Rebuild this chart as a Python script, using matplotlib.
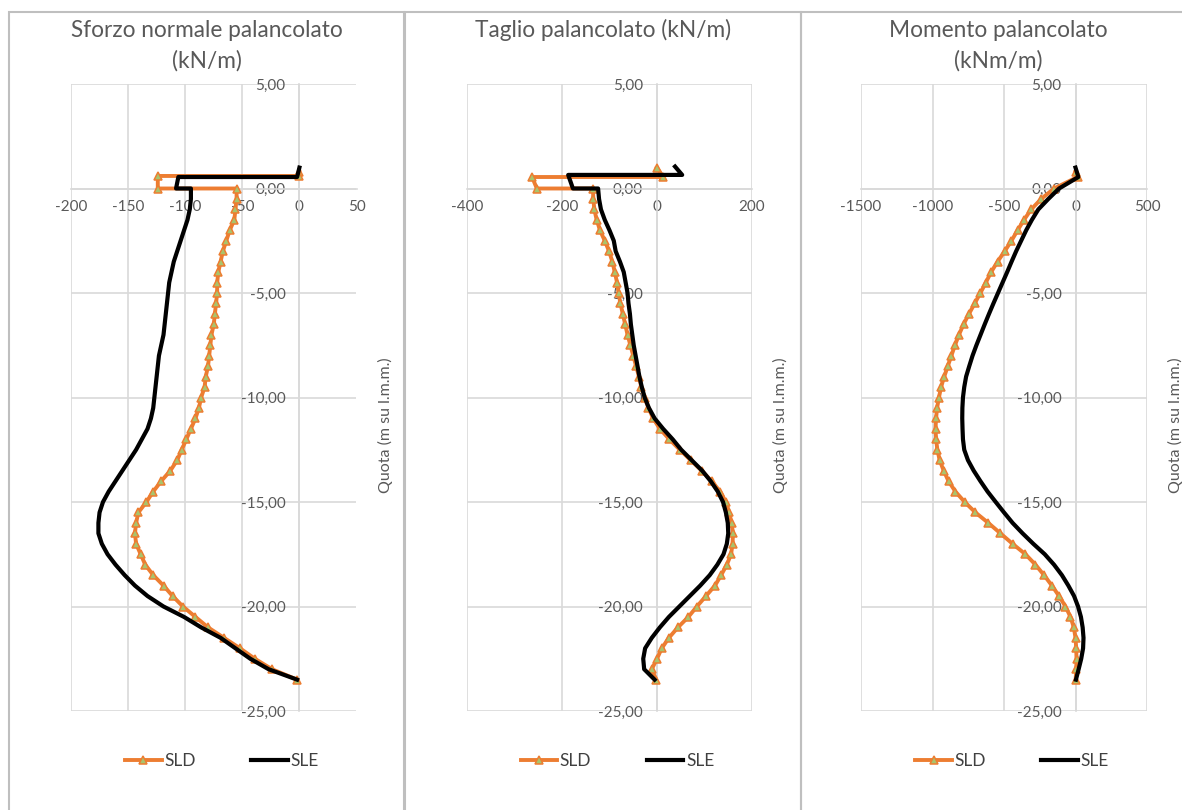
import matplotlib
matplotlib.use('Agg')
import matplotlib.pyplot as plt
from matplotlib.patches import Rectangle
from matplotlib.ticker import FuncFormatter, MultipleLocator

plt.rcParams['font.family'] = ['Lato', 'DejaVu Sans']

# Quota lungo il palancolato (m su l.m.m.), passo 0.5 m
quota = [0.0, -0.5, -1.0, -1.5, -2.0, -2.5, -3.0, -3.5, -4.0, -4.5,
         -5.0, -5.5, -6.0, -6.5, -7.0, -7.5, -8.0, -8.5, -9.0, -9.5,
         -10.0, -10.5, -11.0, -11.5, -12.0, -12.5, -13.0, -13.5, -14.0, -14.5,
         -15.0, -15.5, -16.0, -16.5, -17.0, -17.5, -18.0, -18.5, -19.0, -19.5,
         -20.0, -20.5, -21.0, -21.5, -22.0, -22.5, -23.0, -23.5]

# Tratto di testa (sopra quota 0) per ogni serie
testa_N_SLD_z = [0.8, 0.6, 0.6, 0.0]
testa_N_SLD_x = [0, 0, -124, -124]
testa_N_SLE_z = [1.0, 0.55, 0.55, 0.0]
testa_N_SLE_x = [0, -2, -106, -108]

testa_T_SLD_z = [1.0, 0.55, 0.55, 0.0]
testa_T_SLD_x = [0, 13, -263, -253]
testa_T_SLE_z = [1.05, 0.65, 0.65, 0.0]
testa_T_SLE_x = [38, 53, -187, -177]

testa_M_SLD_z = [0.8, 0.55]
testa_M_SLD_x = [0, 14]
testa_M_SLE_z = [1.0, 0.55]
testa_M_SLE_x = [0, 20]

# Sforzo normale (kN/m)
N_SLD = [-55, -55, -56, -57, -61, -64, -67, -69, -71, -72,
         -72, -73, -74, -75, -77, -78, -79, -80, -82, -83,
         -86, -88, -91, -95, -99, -103, -107, -113, -121, -128,
         -134, -141, -143, -144, -143, -139, -135, -128, -119, -111,
         -102, -91, -80, -66, -52, -39, -24, -2]
N_SLE = [-95, -95, -96, -98, -101, -104, -107, -110, -112, -114,
         -115, -116, -117, -118, -119, -121, -123, -124, -125, -126,
         -127, -128, -130, -133, -138, -143, -149, -155, -161, -167,
         -172, -175, -176, -176, -173, -168, -161, -153, -144, -133,
         -119, -101, -86, -69, -56, -43, -27, -2]

# Taglio (kN/m)
T_SLD = [-135, -134, -132, -127, -120, -110, -101, -94, -89, -84,
         -81, -77, -72, -67, -62, -56, -50, -44, -38, -33,
         -26, -18, -8, 6, 26, 48, 71, 94, 115, 133,
         145, 152, 157, 160, 159, 156, 147, 135, 122, 103,
         84, 66, 44, 25, 10, 0, -11, -2]
T_SLE = [-124, -122, -118, -110, -100, -91, -87, -78, -70, -66,
         -62, -60, -57, -55, -52, -49, -45, -41, -37, -32,
         -26, -17, -5, 13, 33, 51, 73, 95, 113, 128,
         139, 145, 149, 150, 147, 140, 127, 111, 91, 69,
         47, 25, 6, -11, -25, -29, -27, -5]

# Momento (kNm/m)
M_SLD = [-150, -240, -310, -360, -405, -448, -495, -545, -590, -627,
         -665, -705, -745, -783, -815, -843, -868, -893, -918, -940,
         -955, -968, -975, -979, -975, -966, -950, -922, -888, -840,
         -775, -700, -610, -525, -440, -350, -280, -220, -165, -115,
         -70, -35, -12, 0, 5, 7, 5, 1]
M_SLE = [-115, -190, -260, -305, -345, -380, -415, -447, -478, -510,
         -542, -574, -605, -635, -664, -693, -720, -743, -765, -778,
         -787, -791, -792, -790, -787, -778, -752, -712, -665, -615,
         -558, -500, -440, -370, -295, -215, -150, -95, -50, -10,
         18, 38, 50, 56, 53, 40, 22, 3]

titoli = ['Sforzo normale palancolato\n(kN/m)',
          'Taglio palancolato (kN/m)',
          'Momento palancolato\n(kNm/m)']
limiti_x = [(-200, 50, 50), (-400, 200, 200), (-1500, 500, 500)]

serie = [
    (testa_N_SLD_z, testa_N_SLD_x, N_SLD, testa_N_SLE_z, testa_N_SLE_x, N_SLE),
    (testa_T_SLD_z, testa_T_SLD_x, T_SLD, testa_T_SLE_z, testa_T_SLE_x, T_SLE),
    (testa_M_SLD_z, testa_M_SLD_x, M_SLD, testa_M_SLE_z, testa_M_SLE_x, M_SLE),
]

W, H = 1182, 810
fig = plt.figure(figsize=(W / 100, H / 100), dpi=100)

# bordi dei tre grafici (stile Excel)
for x0, x1 in [(9, 404), (405, 801), (801, 1200)]:
    fig.add_artist(Rectangle((x0 / W, -0.05), (x1 - x0) / W, 1 - 12 / H + 0.05,
                             transform=fig.transFigure, fill=False,
                             ec='#BFBFBF', lw=1.5, clip_on=False))

# posizione area del grafico (pixel) e centro del titolo
aree = [(71, 356.5), (467, 752), (861, 1147)]
centri_titolo = [206.5, 603, 998]
y_top, y_bot = 84, 711

grigio = '#595959'
griglia = '#D9D9D9'

for k in range(3):
    xl, xr = aree[k]
    ax = fig.add_axes([xl / W, 1 - y_bot / H, (xr - xl) / W, (y_bot - y_top) / H])
    zd, xd, sld, ze, xe, sle = serie[k]
    ax.plot(xd + sld, zd + quota, color='#ED7D31', lw=2.8, marker='^', ms=5.5,
            mec='#ED7D31', mfc='#A9C46C', mew=1.1, label='SLD', zorder=3)
    ax.plot(xe + sle, ze + quota, color='black', lw=3.0, label='SLE', zorder=4)

    x0, x1, passo = limiti_x[k]
    ax.set_xlim(x0, x1)
    ax.set_ylim(-25, 5)
    ax.xaxis.set_major_locator(MultipleLocator(passo))
    ax.yaxis.set_major_locator(MultipleLocator(5))
    ax.xaxis.set_major_formatter(FuncFormatter(lambda v, p: '%d' % round(v)))
    ax.yaxis.set_major_formatter(FuncFormatter(lambda v, p: ('%.2f' % v).replace('.', ',')))

    ax.grid(True, color=griglia, lw=1.2)
    ax.set_axisbelow(True)
    for t in ax.xaxis.get_major_ticks() + ax.yaxis.get_major_ticks():
        t.gridline.set_clip_on(False)

    # assi che passano per l'origine
    ax.spines['left'].set_position(('data', 0))
    ax.spines['bottom'].set_position(('data', 0))
    ax.spines['top'].set_visible(False)
    ax.spines['right'].set_visible(False)
    for s in ['left', 'bottom']:
        ax.spines[s].set_color(griglia)
        ax.spines[s].set_linewidth(1.2)
    ax.tick_params(length=0, labelsize=11, labelcolor=grigio)
    ax.tick_params(axis='y', pad=10)
    ax.tick_params(axis='x', pad=8)

    ax.set_ylabel('Quota (m su l.m.m.)', fontsize=11.5, color=grigio)
    ax.yaxis.set_label_position('right')
    ax.yaxis.set_label_coords(1.074, 0.456)

    fig.text(centri_titolo[k] / W, 1 - 46 / H if '\n' in titoli[k] else 1 - 30 / H,
             titoli[k], ha='center', va='center', fontsize=16.3, color=grigio,
             linespacing=1.5)

    ax.legend(loc='center', bbox_to_anchor=(0.5 + 8 / 285, -0.08), ncol=2,
              frameon=False, fontsize=12.5, handlelength=2.1, handletextpad=0.15,
              columnspacing=3.2, labelcolor='#404040')

fig.savefig('out.png', dpi=100)
